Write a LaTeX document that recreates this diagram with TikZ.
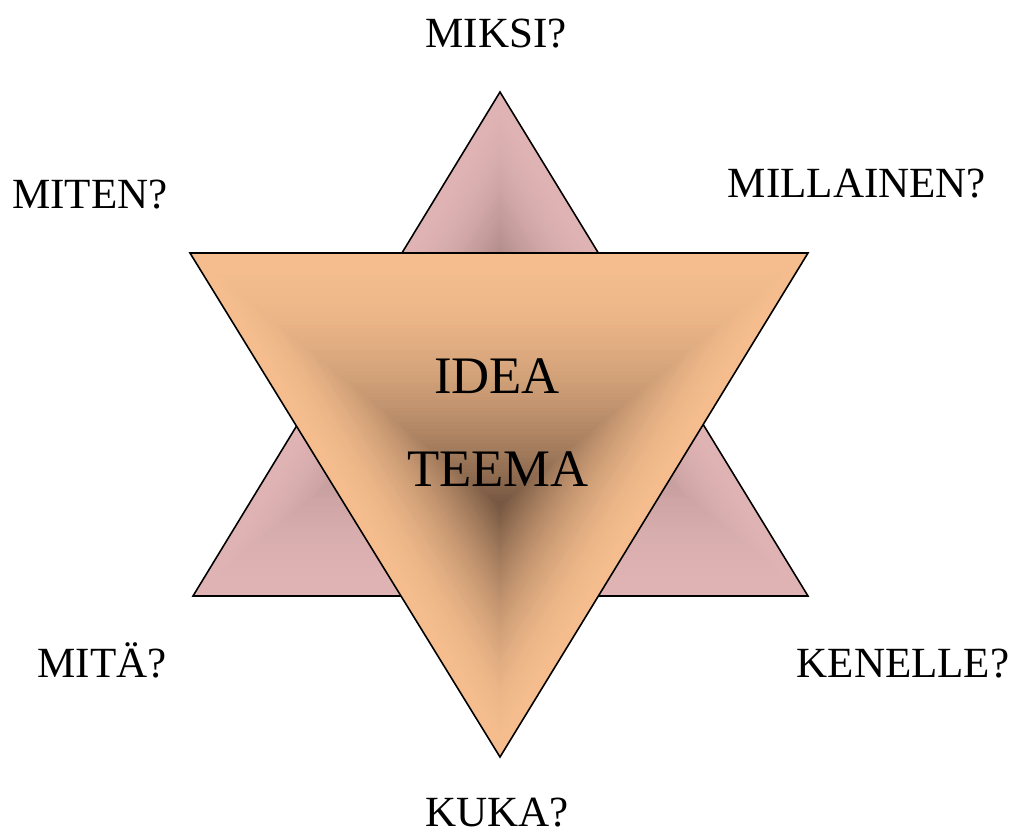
\documentclass[tikz,border=0pt]{standalone}
\usepackage{fontspec}
\setmainfont{Liberation Serif}
\usetikzlibrary{calc}

\definecolor{pinklight}{HTML}{E0B4B4}
\definecolor{pinkdark}{HTML}{7A5A5A}
\definecolor{peachlight}{HTML}{F6BE8E}
\definecolor{peachdark}{HTML}{735540}

\begin{document}
\begin{tikzpicture}[x=0.02cm, y=-0.02cm,
    % Define styles for consistent formatting
    question/.style={font=\fontsize{24.5}{28}\selectfont, inner sep=0pt, anchor=base},
    keyword/.style={font=\fontsize{30}{34}\selectfont, inner sep=0pt, anchor=base},
    outline/.style={draw=black, line width=0.9pt, line join=miter}
]
\useasboundingbox (0,0) rectangle (1022,835);

% Corners of the two triangles
\coordinate (uptop) at (500,92);
\coordinate (upleft) at (193,596);
\coordinate (upright) at (808,596);
\coordinate (downleft) at (190,253);
\coordinate (downright) at (808,253);
\coordinate (downtip) at (500,757);

% Shading centres (middle of each bounding box)
\coordinate (upmid) at (500,344);
\coordinate (downmid) at (500,505);

% Number of shading steps
\newcommand{\nsteps}{70}

% Upward triangle, dark in the middle
\foreach \i in {0,...,\nsteps} {
    \pgfmathsetmacro{\s}{1-\i/\nsteps}
    \pgfmathtruncatemacro{\p}{100*(1-(1-\s)^1.8)}
    \fill [pinklight!\p!pinkdark] ($(upmid)!\s!(uptop)$) -- ($(upmid)!\s!(upleft)$) -- ($(upmid)!\s!(upright)$) -- cycle;
}
\draw [outline] (uptop) -- (upleft) -- (upright) -- cycle;

% Downward triangle on top
\foreach \i in {0,...,\nsteps} {
    \pgfmathsetmacro{\s}{1-\i/\nsteps}
    \pgfmathtruncatemacro{\p}{100*(1-(1-\s)^1.8)}
    \fill [peachlight!\p!peachdark] ($(downmid)!\s!(downleft)$) -- ($(downmid)!\s!(downright)$) -- ($(downmid)!\s!(downtip)$) -- cycle;
}
\draw [outline] (downleft) -- (downright) -- (downtip) -- cycle;

% Centre words
\node [keyword] (idea) at (497,393) {IDEA};
\node [keyword] (teema) at (498,486) {TEEMA};

% Questions round the star
\node [question] (miksi) at (496,48) {MIKSI?};
\node [question] (miten) at (90,208) {MITEN?};
\node [question] (millainen) at (857,197) {MILLAINEN?};
\node [question] (mita) at (102,677) {MITÄ?};
\node [question] (kenelle) at (903,677) {KENELLE?};
\node [question] (kuka) at (497,826) {KUKA?};

\end{tikzpicture}
\end{document}
